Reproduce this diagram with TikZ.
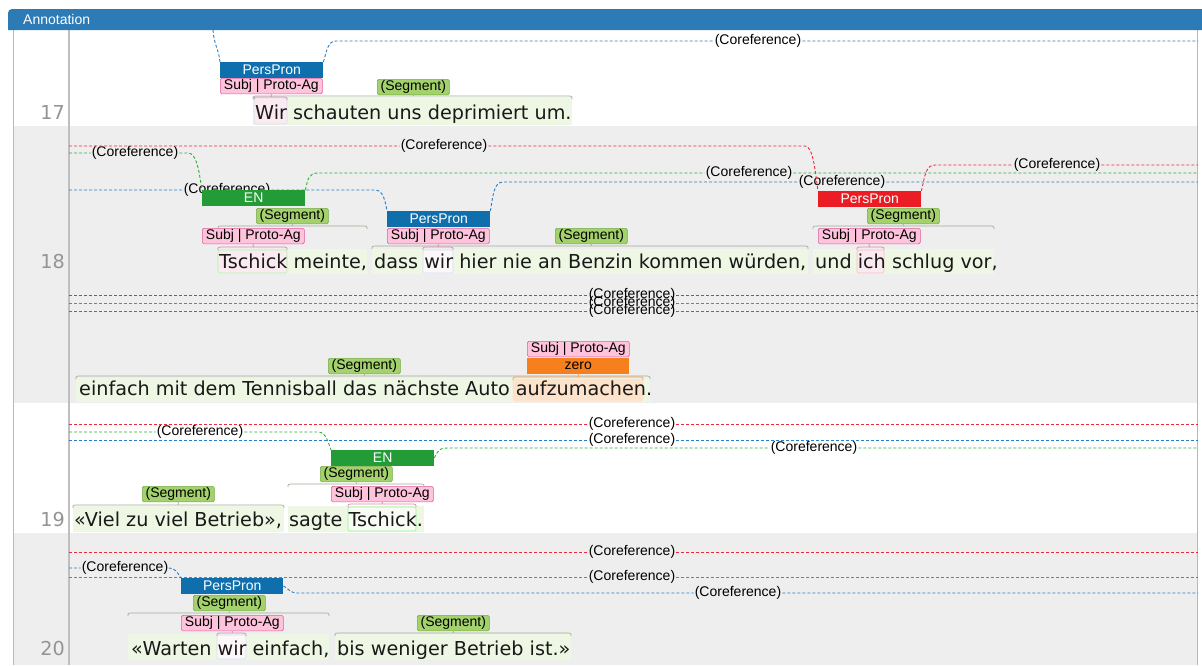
\documentclass[tikz,border=0pt]{standalone}
\usepackage{fontspec}
\newfontfamily\tokfont{DejaVu Sans}
\newfontfamily\lblfont{Liberation Sans}
\definecolor{hdrblue}{HTML}{2C7BB6}
\definecolor{rowgray}{HTML}{EEEEEE}
\definecolor{ppblue}{HTML}{0F6FAC}
\definecolor{ppred}{HTML}{EC1C24}
\definecolor{engreen}{HTML}{239B37}
\definecolor{zeroorange}{HTML}{F7801E}
\definecolor{subjfill}{HTML}{FFC3DC}
\definecolor{subjline}{HTML}{E0609E}
\definecolor{segfill}{HTML}{A3D26C}
\definecolor{segline}{HTML}{76AA48}
\definecolor{seghlc}{HTML}{EDF7E3}
\definecolor{segbrc}{HTML}{A3AC94}
\definecolor{pinkhl}{HTML}{FCEAF1}
\definecolor{bluehl}{HTML}{CFE2F4}
\definecolor{orangehl}{HTML}{FDE3CC}
\definecolor{corefred}{HTML}{F0283C}
\definecolor{corefgreen}{HTML}{30B038}
\definecolor{corefblue}{HTML}{2A7EC6}

% span bracket: style, from x, to x, y, label node
\newcommand{\spanbrace}[5]{%
  \draw[#1] (#2,#4+3) .. controls (#2,#4) .. (#2+6,#4) -| (#5.south) |- (#3-6,#4) .. controls (#3,#4) .. (#3,#4+3);}

\begin{document}
\begin{tikzpicture}[x=1pt, y=-1pt,
    tok/.style={anchor=base west, inner sep=0pt, text=black!90, font={\tokfont\fontsize{19.2}{22}\selectfont}},
    lnum/.style={anchor=base east, inner sep=0pt, text=black!42, font={\tokfont\fontsize{19.2}{22}\selectfont}},
    lbl/.style={inner sep=0pt, font={\lblfont\fontsize{14}{15}\selectfont}},
    corlab/.style={lbl, inner sep=1pt},
    typebox/.style={lbl, anchor=north west, minimum width=103pt, minimum height=15.5pt, text=white},
    subjbox/.style={lbl, anchor=north west, draw=subjline, fill=subjfill, rounded corners=1.5pt, line width=0.6pt, minimum width=102pt, minimum height=15.5pt},
    segbox/.style={lbl, anchor=north west, draw=segline, fill=segfill, rounded corners=1.5pt, line width=0.6pt, minimum width=72pt, minimum height=15.5pt},
    coref/.style={dash pattern=on 3pt off 2pt, line width=0.9pt},
    corefR/.style={coref, draw=corefred},
    corefG/.style={coref, draw=corefgreen},
    corefB/.style={coref, draw=corefblue},
    seghl/.style={fill=seghlc},
    wordhl/.style={rounded corners=2pt, line width=0.6pt},
    segbr/.style={draw=segbrc, line width=0.7pt},
    subjbr/.style={draw=subjline!80, line width=0.7pt},
    zerobr/.style={draw=zeroorange!80, line width=0.7pt}]
  \useasboundingbox (0,0) rectangle (1202,665);
  \fill[white] (0,0) rectangle (1202,665);

  % panel and rows
  \fill[rowgray] (13,126) rectangle (1197,403);
  \fill[rowgray] (13,533) rectangle (1197,665);
  \draw[bluehl!80!blue, line width=1pt] (13,30) -- (13,665);
  \draw[bluehl!80!blue, line width=1pt] (1197,30) -- (1197,665);
  \draw[black!25, line width=1.4pt] (69,30) -- (69,665);
  \fill[hdrblue] (8,30) [rounded corners=4pt] -- (8,9) -- (1210,9) [sharp corners] -- (1210,30) -- cycle;
  \node[lbl, anchor=base west, text=white, font={\lblfont\fontsize{14}{16}\selectfont}] (hdr) at (23,24) {Annotation};

  % ---- sentence 17
  \node[lnum] (n17) at (65,119) {17};
  \fill[seghl] (253,97) rectangle (572,125);
  \filldraw[wordhl, fill=pinkhl, draw=bluehl] (254,98) rectangle (287,124);
  \node[tok] (s17) at (255,119) {Wir schauten uns deprimiert um.};

  \coordinate (b17s) at (213,30);
  \coordinate (b17e) at (1198,41);
  \node[corlab] (cl17) at (758,41) {(Coreference)};
  \node[typebox, fill=ppblue] (pp17) at (220,62) {PersPron};
  \draw[corefB] (b17s) .. controls (214,45) and (219,50) .. (pp17.north west);
  \draw[corefB] (pp17.north east) .. controls (327,50) and (328,41) .. (336,41) -- (cl17) -- (b17e);
  \node[typebox, fill=ppblue] (pp17) at (220,62) {PersPron};
  \node[subjbox] (sub17) at (220,78) {Subj | Proto-Ag};
  \node[segbox] (seg17) at (377,79) {(Segment)};
  \spanbrace{subjbr}{254}{287}{97}{sub17}
  \spanbrace{segbr}{253}{572}{96}{seg17}

  % ---- sentence 18
  \node[lnum] (n18) at (65,268) {18};
  \fill[seghl] (218,249) rectangle (367,274);
  \fill[seghl] (372,249) rectangle (808,274);
  \fill[seghl] (813,249) rectangle (994,274);
  \filldraw[wordhl, fill=pinkhl, draw=seghlc!70!green] (218,250) rectangle (287,273);
  \filldraw[wordhl, fill=pinkhl!40, draw=bluehl] (423,250) rectangle (453,273);
  \filldraw[wordhl, fill=pinkhl, draw=pinkhl!80!red] (857,250) rectangle (884,273);
  \node[tok] (s18a) at (219,268) {Tschick meinte,};
  \node[tok] (s18b) at (374,268) {dass wir hier nie an Benzin kommen würden,};
  \node[tok] (s18c) at (815,268) {und ich schlug vor,};

  \coordinate (r18s) at (69,146);
  \coordinate (g18s) at (69,153);
  \coordinate (b18s) at (69,190);
  \coordinate (r18e) at (1198,165);
  \coordinate (g18e) at (1198,173);
  \coordinate (b18e) at (1198,182);
  \node[corlab] (cr18a) at (444,146) {(Coreference)};
  \node[corlab] (cg18a) at (135,153) {(Coreference)};
  \node[corlab] (cb18a) at (227,190) {(Coreference)};
  \node[corlab] (cr18b) at (1057,165) {(Coreference)};
  \node[corlab] (cg18b) at (749,173) {(Coreference)};
  \node[corlab] (cb18b) at (842,182) {(Coreference)};
  \node[typebox, fill=engreen] (en18) at (202,190) {EN};
  \node[typebox, fill=ppblue] (pp18) at (387,211) {PersPron};
  \node[typebox, fill=ppred] (pr18) at (818,191) {PersPron};
  \draw[corefR] (r18s) -- (cr18a) -- (805,146) .. controls (813,146) and (815,170) .. (pr18.north west);
  \draw[corefG] (g18s) -- (cg18a) -- (188,153) .. controls (197,153) and (199,172) .. (en18.north west);
  \draw[corefB] (b18s) -- (cb18a) -- (375,190) .. controls (383,190) and (385,200) .. (pp18.north west);
  \draw[corefR] (pr18.north east) .. controls (925,175) and (926,165) .. (935,165) -- (cr18b) -- (r18e);
  \draw[corefG] (en18.north east) .. controls (308,178) and (309,173) .. (318,173) -- (cg18b) -- (g18e);
  \draw[corefB] (pp18.north east) .. controls (493,195) and (494,182) .. (503,182) -- (cb18b) -- (b18e);
  \node[typebox, fill=engreen] (en18) at (202,190) {EN};
  \node[typebox, fill=ppblue] (pp18) at (387,211) {PersPron};
  \node[typebox, fill=ppred] (pr18) at (818,191) {PersPron};

  \node[segbox] (seg18a) at (256,208) {(Segment)};
  \node[subjbox] (sub18a) at (202,228) {Subj | Proto-Ag};
  \node[subjbox] (sub18b) at (387,228) {Subj | Proto-Ag};
  \node[segbox] (seg18b) at (555,228) {(Segment)};
  \node[segbox] (seg18c) at (867,208) {(Segment)};
  \node[subjbox] (sub18c) at (818,228) {Subj | Proto-Ag};
  \spanbrace{segbr}{218}{367}{226}{seg18a}
  \spanbrace{segbr}{372}{808}{246}{seg18b}
  \spanbrace{segbr}{813}{994}{226}{seg18c}
  \spanbrace{subjbr}{218}{287}{247}{sub18a}
  \spanbrace{subjbr}{423}{453}{247}{sub18b}
  \spanbrace{subjbr}{857}{884}{247}{sub18c}

  % second line of 18
  \fill[seghl] (76,378) rectangle (650,402);
  \filldraw[wordhl, fill=orangehl, draw=orangehl] (513,379) rectangle (643,401);
  \node[tok] (s18d) at (79,395) {einfach mit dem Tennisball das nächste Auto aufzumachen.};
  \coordinate (r18t) at (69,295);
  \coordinate (g18t) at (69,303);
  \coordinate (b18t) at (69,311);
  \coordinate (r18u) at (1198,295);
  \coordinate (g18u) at (1198,303);
  \coordinate (b18u) at (1198,311);
  \node[corlab] (cr18c) at (632,295) {(Coreference)};
  \node[corlab] (cg18c) at (632,303) {(Coreference)};
  \node[corlab] (cb18c) at (632,311) {(Coreference)};
  \draw[corefR] (r18t) -- (cr18c) -- (r18u);
  \draw[corefG] (g18t) -- (cg18c) -- (g18u);
  \draw[corefB] (b18t) -- (cb18c) -- (b18u);
  \node[subjbox] (sub18d) at (527,341) {Subj | Proto-Ag};
  \node[typebox, fill=zeroorange, text=black, minimum width=102pt] (zero18) at (527,358) {zero};
  \node[segbox] (seg18d) at (328,358) {(Segment)};
  \spanbrace{segbr}{76}{650}{376}{seg18d}
  \spanbrace{zerobr}{513}{643}{377}{zero18}

  % ---- sentence 19
  \node[lnum] (n19) at (65,526) {19};
  \fill[seghl] (73,506) rectangle (284,532);
  \fill[seghl] (288,506) rectangle (424,532);
  \filldraw[wordhl, fill=white!60!seghlc, draw=seghlc!60!green] (348,507) rectangle (416,531);
  \node[tok] (s19a) at (74,526) {«Viel zu viel Betrieb»,};
  \node[tok] (s19b) at (289,526) {sagte Tschick.};

  \coordinate (r19s) at (69,424);
  \coordinate (g19s) at (69,432);
  \coordinate (b19s) at (69,440);
  \coordinate (r19e) at (1198,424);
  \coordinate (g19e) at (1198,448);
  \coordinate (b19e) at (1198,440);
  \node[corlab] (cr19) at (632,424) {(Coreference)};
  \node[corlab] (cg19a) at (200,432) {(Coreference)};
  \node[corlab] (cb19) at (632,440) {(Coreference)};
  \node[corlab] (cg19b) at (814,448) {(Coreference)};
  \node[typebox, fill=engreen] (en19) at (331,450) {EN};
  \draw[corefR] (r19s) -- (cr19) -- (r19e);
  \draw[corefB] (b19s) -- (cb19) -- (b19e);
  \draw[corefG] (g19s) -- (cg19a) -- (318,432) .. controls (326,432) and (328,442) .. (en19.north west);
  \draw[corefG] (en19.east) .. controls (438,450) and (440,448) .. (447,448) -- (cg19b) -- (g19e);
  \node[typebox, fill=engreen] (en19) at (331,450) {EN};
  \node[segbox] (seg19a) at (320,466) {(Segment)};
  \node[subjbox] (sub19) at (331,486) {Subj | Proto-Ag};
  \node[segbox] (seg19b) at (142,486) {(Segment)};
  \spanbrace{segbr}{288}{424}{484}{seg19a}
  \spanbrace{subjbr}{348}{416}{504}{sub19}
  \spanbrace{segbr}{73}{284}{505}{seg19b}

  % ---- sentence 20
  \node[lnum] (n20) at (65,655) {20};
  \fill[seghl] (128,634) rectangle (329,660);
  \fill[seghl] (335,634) rectangle (571,660);
  \filldraw[wordhl, fill=pinkhl!40, draw=bluehl] (217,635) rectangle (246,659);
  \node[tok] (s20a) at (131,655) {«Warten wir einfach,};
  \node[tok] (s20b) at (337,655) {bis weniger Betrieb ist.»};

  \coordinate (r20s) at (69,552);
  \coordinate (b20s) at (69,568);
  \coordinate (g20s) at (69,577);
  \coordinate (r20e) at (1198,552);
  \coordinate (g20e) at (1198,577);
  \coordinate (b20e) at (1198,593);
  \node[corlab] (cr20) at (632,552) {(Coreference)};
  \node[corlab] (cb20a) at (125,568) {(Coreference)};
  \node[corlab] (cg20) at (632,577) {(Coreference)};
  \node[corlab] (cb20b) at (738,593) {(Coreference)};
  \node[typebox, fill=ppblue, minimum width=102pt] (pp20) at (181,578) {PersPron};
  \draw[corefR] (r20s) -- (cr20) -- (r20e);
  \draw[corefG] (g20s) -- (cg20) -- (g20e);
  \draw[corefB] (b20s) -- (cb20a) -- (169,568) .. controls (175,568) and (177,572) .. (pp20.north west);
  \draw[corefB] (pp20.east) .. controls (288,588) and (290,593) .. (297,593) -- (cb20b) -- (b20e);
  \node[typebox, fill=ppblue, minimum width=102pt] (pp20) at (181,578) {PersPron};
  \node[segbox] (seg20a) at (193,595) {(Segment)};
  \node[subjbox] (sub20) at (181,615) {Subj | Proto-Ag};
  \node[segbox] (seg20b) at (417,615) {(Segment)};
  \spanbrace{segbr}{128}{329}{613}{seg20a}
  \spanbrace{subjbr}{217}{246}{633}{sub20}
  \spanbrace{segbr}{335}{571}{633}{seg20b}
\end{tikzpicture}
\end{document}
